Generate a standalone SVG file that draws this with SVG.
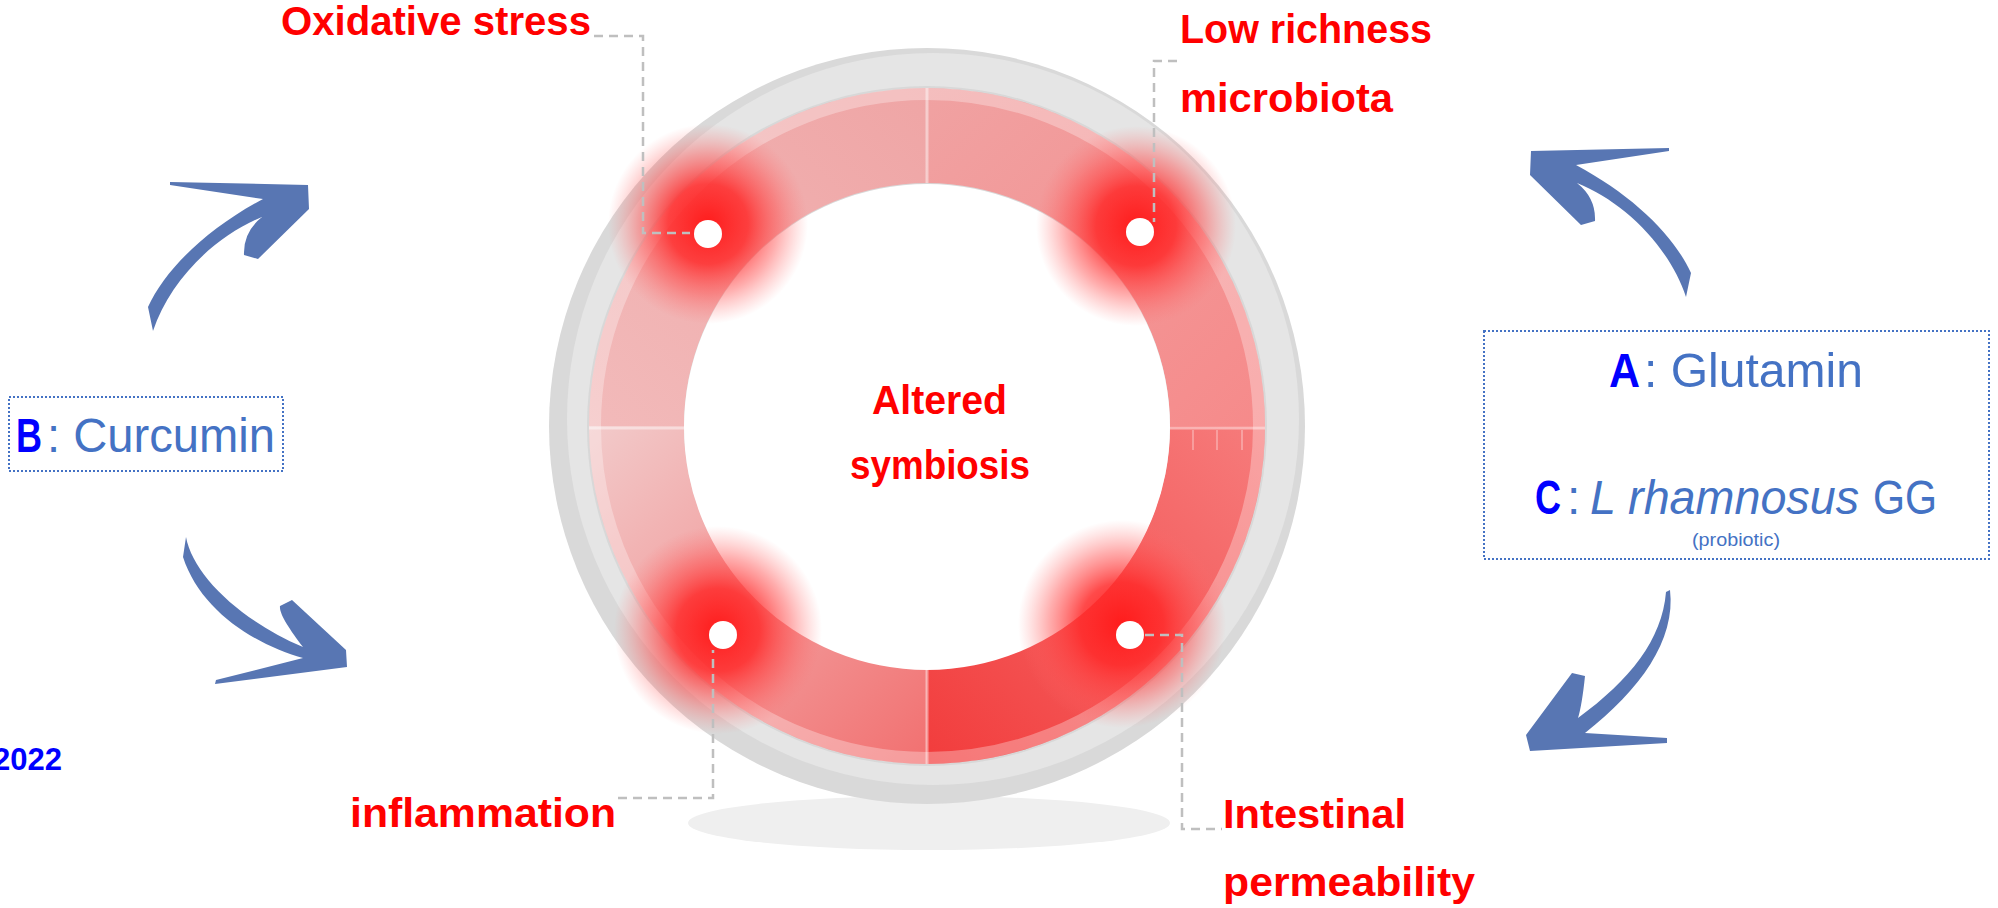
<svg xmlns="http://www.w3.org/2000/svg" width="1998" height="908" viewBox="0 0 1998 908">
  <style>
    .lbl { font-family: "Liberation Sans Narrow", "Liberation Sans", Arial, sans-serif; font-weight: bold; fill: #ff0000; font-size: 41px; }
    .blu { font-family: "Liberation Sans Narrow", "Liberation Sans", Arial, sans-serif; fill: #4472c4; font-size: 48px; }
    .small { font-size: 18px; }
    .key { font-weight: bold; fill: #0000ff; }
    .lead { fill: none; stroke: #bfbfbf; stroke-width: 2.5; stroke-dasharray: 9 6; }
    .arw { fill: #5876b3; }
    .box { fill: none; stroke: #4472c4; stroke-width: 2; stroke-dasharray: 2 2; }
    .sep { stroke: #ffffff; stroke-opacity: 0.45; stroke-width: 3; }
    .dot { fill: #ffffff; }
  </style>
  <defs>
    <linearGradient id="gTL" gradientUnits="userSpaceOnUse" x1="589" y1="426" x2="927" y2="88">
      <stop offset="0" stop-color="#f2baba"/>
      <stop offset="1" stop-color="#efa5a5"/>
    </linearGradient>
    <linearGradient id="gTR" gradientUnits="userSpaceOnUse" x1="927" y1="88" x2="1265" y2="426">
      <stop offset="0" stop-color="#f0a2a2"/>
      <stop offset="1" stop-color="#f68a8a"/>
    </linearGradient>
    <linearGradient id="gBR" gradientUnits="userSpaceOnUse" x1="1265" y1="426" x2="927" y2="764">
      <stop offset="0" stop-color="#f67c7c"/>
      <stop offset="1" stop-color="#f23c3c"/>
    </linearGradient>
    <linearGradient id="gBL" gradientUnits="userSpaceOnUse" x1="589" y1="426" x2="927" y2="764">
      <stop offset="0" stop-color="#f2caca"/>
      <stop offset="1" stop-color="#f27070"/>
    </linearGradient>
    <radialGradient id="glow">
      <stop offset="0" stop-color="#ff1c1c" stop-opacity="1"/>
      <stop offset="0.4" stop-color="#ff2a2a" stop-opacity="0.85"/>
      <stop offset="0.7" stop-color="#ff4a4a" stop-opacity="0.45"/>
      <stop offset="1" stop-color="#ff7070" stop-opacity="0"/>
    </radialGradient>
  </defs>

  <rect width="1998" height="908" fill="#ffffff"/>

  <!-- floor shadow under the ring -->
  <ellipse cx="929" cy="823" rx="241" ry="27" fill="#efefef"/>

  <!-- central ring -->
  <g id="ring">
    <circle cx="927" cy="426" r="378" fill="#d9d9d9"/>
    <circle cx="933" cy="419" r="366" fill="#e5e5e5"/>
    <circle cx="927" cy="426" r="340" fill="#d8d8d8"/>
    <path d="M589,426 A338,338 0 0 1 927,88 L927,183 A243,243 0 0 0 684,426 Z" fill="url(#gTL)"/>
    <path d="M927,88 A338,338 0 0 1 1265,426 L1170,426 A243,243 0 0 0 927,183 Z" fill="url(#gTR)"/>
    <path d="M1265,426 A338,338 0 0 1 927,764 L927,669 A243,243 0 0 0 1170,426 Z" fill="url(#gBR)"/>
    <path d="M927,764 A338,338 0 0 1 589,426 L684,426 A243,243 0 0 0 927,669 Z" fill="url(#gBL)"/>
    <circle cx="927" cy="426" r="332" fill="none" stroke="#ffffff" stroke-opacity="0.3" stroke-width="12"/>
    <line class="sep" x1="927" y1="88" x2="927" y2="183"/>
    <line class="sep" x1="927" y1="669" x2="927" y2="764"/>
    <line class="sep" x1="589" y1="428" x2="684" y2="428"/>
    <line class="sep" x1="1170" y1="428" x2="1265" y2="428"/>
    <g stroke="#ffffff" stroke-opacity="0.4" stroke-width="1.5">
      <line x1="1193" y1="430" x2="1193" y2="450"/>
      <line x1="1217" y1="430" x2="1217" y2="450"/>
      <line x1="1242" y1="430" x2="1242" y2="450"/>
    </g>
    <circle cx="927" cy="427" r="243" fill="#ffffff"/>
  </g>

  <!-- hot spots on the ring -->
  <g id="hotspots">
    <circle cx="708" cy="224" r="100" fill="url(#glow)"/>
    <circle cx="1136" cy="226" r="100" fill="url(#glow)"/>
    <circle cx="718" cy="630" r="104" fill="url(#glow)"/>
    <circle cx="1122" cy="624" r="104" fill="url(#glow)"/>
    <circle class="dot" cx="708" cy="234" r="14"/>
    <circle class="dot" cx="1140" cy="232" r="14"/>
    <circle class="dot" cx="723" cy="635" r="14"/>
    <circle class="dot" cx="1130" cy="635" r="14"/>
  </g>

  <!-- leader lines and arrows -->
  <g id="connectors">
    <path class="lead" d="M594,36 H643 V233 H690"/>
    <path class="lead" d="M1177,61 H1154 V222"/>
    <path class="lead" d="M618,798 H713 V650"/>
    <path class="lead" d="M1145,635 H1182 V829 H1222"/>
    <path class="arw" d="M170,182 L308,185 L309,209 L258,259 L244,255 Q243,232 262,217 C215,236 170,280 153,331 L148,307 C165,270 205,230 263,199 L170,185 Z"/>
    <path class="arw" transform="translate(1839,-34) scale(-1,1)" d="M170,182 L308,185 L309,209 L258,259 L244,255 Q243,232 262,217 C215,236 170,280 153,331 L148,307 C165,270 205,230 263,199 L170,185 Z"/>
    <path class="arw" d="M186,537 C193,575 240,620 303,647 C290,630 279,614 280,606 L292,600 L346,650 L347,667 L215,684 L216,680 L303,658 C255,645 200,610 183,557 Z"/>
    <path class="arw" d="M1670,590 C1676,640 1640,690 1585,733 L1667,738 L1667,743 L1530,751 L1526,735 L1572,673 L1585,676 Q1582,705 1578,718 C1630,680 1662,640 1666,592 Z"/>
  </g>

  <g id="label-oxidative-stress">
    <text class="lbl" x="281" y="35" textLength="310" lengthAdjust="spacingAndGlyphs">Oxidative stress</text>
  </g>
  <g id="label-low-richness">
    <text class="lbl" x="1180" y="43" textLength="252" lengthAdjust="spacingAndGlyphs">Low richness</text>
    <text class="lbl" x="1180" y="112" textLength="213" lengthAdjust="spacingAndGlyphs">microbiota</text>
  </g>
  <g id="label-altered-symbiosis">
    <text class="lbl" x="872" y="414" textLength="135" lengthAdjust="spacingAndGlyphs">Altered</text>
    <text class="lbl" x="850" y="479" textLength="180" lengthAdjust="spacingAndGlyphs">symbiosis</text>
  </g>
  <g id="label-inflammation">
    <text class="lbl" x="350" y="827" textLength="266" lengthAdjust="spacingAndGlyphs">inflammation</text>
  </g>
  <g id="label-intestinal-permeability">
    <text class="lbl" x="1223" y="828" textLength="183" lengthAdjust="spacingAndGlyphs">Intestinal</text>
    <text class="lbl" x="1223" y="896" textLength="252" lengthAdjust="spacingAndGlyphs">permeability</text>
  </g>

  <g id="node-b-curcumin">
    <rect class="box" x="9" y="397" width="274" height="74"/>
    <text class="blu"><tspan class="key" x="16" y="452" textLength="26" lengthAdjust="spacingAndGlyphs">B</tspan><tspan x="47" y="452" textLength="228" lengthAdjust="spacingAndGlyphs">: Curcumin</tspan></text>
  </g>

  <g id="node-a-c">
    <rect class="box" x="1484" y="331" width="505" height="228"/>
    <text class="blu"><tspan class="key" x="1609" y="387" textLength="31" lengthAdjust="spacingAndGlyphs">A</tspan><tspan x="1644" y="387" textLength="219" lengthAdjust="spacingAndGlyphs">: Glutamin</tspan></text>
    <text class="blu"><tspan class="key" x="1535" y="514" textLength="26" lengthAdjust="spacingAndGlyphs">C</tspan><tspan x="1567" y="514">:</tspan><tspan x="1590" y="514" font-style="italic" textLength="269" lengthAdjust="spacingAndGlyphs">L rhamnosus</tspan><tspan x="1873" y="514" textLength="64" lengthAdjust="spacingAndGlyphs">GG</tspan></text>
    <text class="blu small" x="1692" y="546" textLength="88" lengthAdjust="spacingAndGlyphs">(probiotic)</text>
  </g>

  <g id="label-year">
    <text x="62" y="770" text-anchor="end" font-family="Liberation Sans Narrow, Liberation Sans, Arial, sans-serif" font-weight="bold" font-size="31" fill="#0000ff">2022</text>
  </g>
</svg>
